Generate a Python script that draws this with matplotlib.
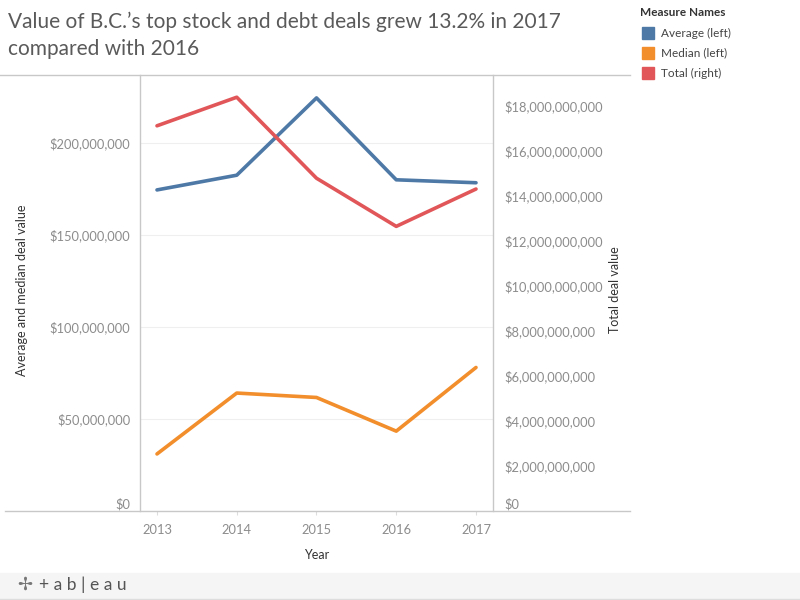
import matplotlib
matplotlib.use('Agg')
import matplotlib.pyplot as plt
from matplotlib.lines import Line2D
from matplotlib.patches import Rectangle

plt.rcParams['font.family'] = ['Lato', 'DejaVu Sans']

years = [2013, 2014, 2015, 2016, 2017]
average = [174.5e6, 182.5e6, 224.5e6, 180.0e6, 178.4e6]   # left axis
median = [31.0e6, 64.1e6, 61.7e6, 43.4e6, 78.0e6]         # left axis
total = [17.12e9, 18.39e9, 14.79e9, 12.65e9, 14.31e9]     # right axis

left_ticks = [0, 50e6, 100e6, 150e6, 200e6]
right_ticks = [i * 2e9 for i in range(10)]

c_avg = '#4e79a7'
c_med = '#f28e2b'
c_tot = '#e15759'
grey = '#8c8c8c'

fig = plt.figure(figsize=(8, 6), dpi=100)
ax = fig.add_axes([140/800, 1-511/600, 353/800, 436/600])
ax2 = ax.twinx()

ax.plot(years, average, color=c_avg, lw=2.6, solid_capstyle='round', zorder=3)
ax.plot(years, median, color=c_med, lw=2.6, solid_capstyle='round', zorder=3)
ax2.plot(years, total, color=c_tot, lw=2.6, solid_capstyle='round', zorder=3)

ax.set_xlim(2013 - 17/79.75, 2017 + 17/79.75)
ax.set_ylim(0, 436/92*50e6)
ax2.set_ylim(0, 436/45*2e9)

ax.set_xticks(years)
ax.set_xticklabels([str(y) for y in years])
ax.set_yticks(left_ticks)
ax.set_yticklabels(['$' + format(int(v), ',') for v in left_ticks])
ax2.set_yticks(right_ticks)
ax2.set_yticklabels(['$' + format(int(v), ',') for v in right_ticks])

ax.yaxis.grid(True, color='#efefef', lw=0.8)
ax.set_axisbelow(True)

for a in (ax, ax2):
    for s in a.spines.values():
        s.set_visible(False)
    a.tick_params(axis='y', length=0, labelsize=9.3, labelcolor=grey)
ax.tick_params(axis='x', length=3, color='#dddddd', labelsize=9.3, labelcolor=grey, pad=6)
ax.tick_params(axis='y', pad=7)
ax2.tick_params(axis='y', pad=8)

# Tableau pushes the $0 labels up inside the pane
ax.get_yticklabels()[0].set_va('bottom')
ax2.get_yticklabels()[0].set_va('bottom')

ax.set_xlabel('Year', fontsize=9, color='#333333', labelpad=10)
fig.text(22/800, 1-290/600, 'Average and median deal value', rotation=90,
         fontsize=9, color='#333333', ha='center', va='center')
fig.text(615/800, 1-290/600, 'Total deal value', rotation=90,
         fontsize=9, color='#333333', ha='center', va='center')

# frame lines
lc = '#c8c8c8'
fig.add_artist(Line2D([0, 630/800], [1-75/600, 1-75/600], color=lc, lw=1))
fig.add_artist(Line2D([5/800, 630/800], [1-511/600, 1-511/600], color=lc, lw=1))
fig.add_artist(Line2D([140/800, 140/800], [1-511/600, 1-75/600], color=lc, lw=1))
fig.add_artist(Line2D([493/800, 493/800], [1-511/600, 1-75/600], color=lc, lw=1))

# title
fig.text(8/800, 1-12/600, 'Value of B.C.\u2019s top stock and debt deals grew 13.2% in 2017\ncompared with 2016',
         fontsize=15, color='#5a5a5a', ha='left', va='top', linespacing=1.4)

# legend
fig.text(640/800, 1-13/600, 'Measure Names', fontsize=8.5, fontweight='bold',
         color='#333333', ha='left', va='center')
names = ['Average (left)', 'Median (left)', 'Total (right)']
for i, (n, c) in enumerate(zip(names, [c_avg, c_med, c_tot])):
    yc = 33 + 20*i
    fig.add_artist(Rectangle((642/800, 1-(yc+6)/600), 12/800, 12/600, color=c))
    fig.text(661/800, 1-yc/600, n, fontsize=8.5, color='#444444', ha='left', va='center')

# footer
fig.add_artist(Rectangle((0, 0), 1, 27/600, color='#f5f5f5', zorder=0))
fig.add_artist(Line2D([0, 1], [1/600, 1/600], color='#dddddd', lw=1))
fig.text(17/800, 1-585/600, '\u2722', fontsize=13, color='#777777', ha='left', va='center',
         family=['DejaVu Sans'])
fig.text(39/800, 1-585/600, '+ a b | e a u', fontsize=12.5, color='#555555', ha='left', va='center')

fig.savefig('out.png', dpi=100)
